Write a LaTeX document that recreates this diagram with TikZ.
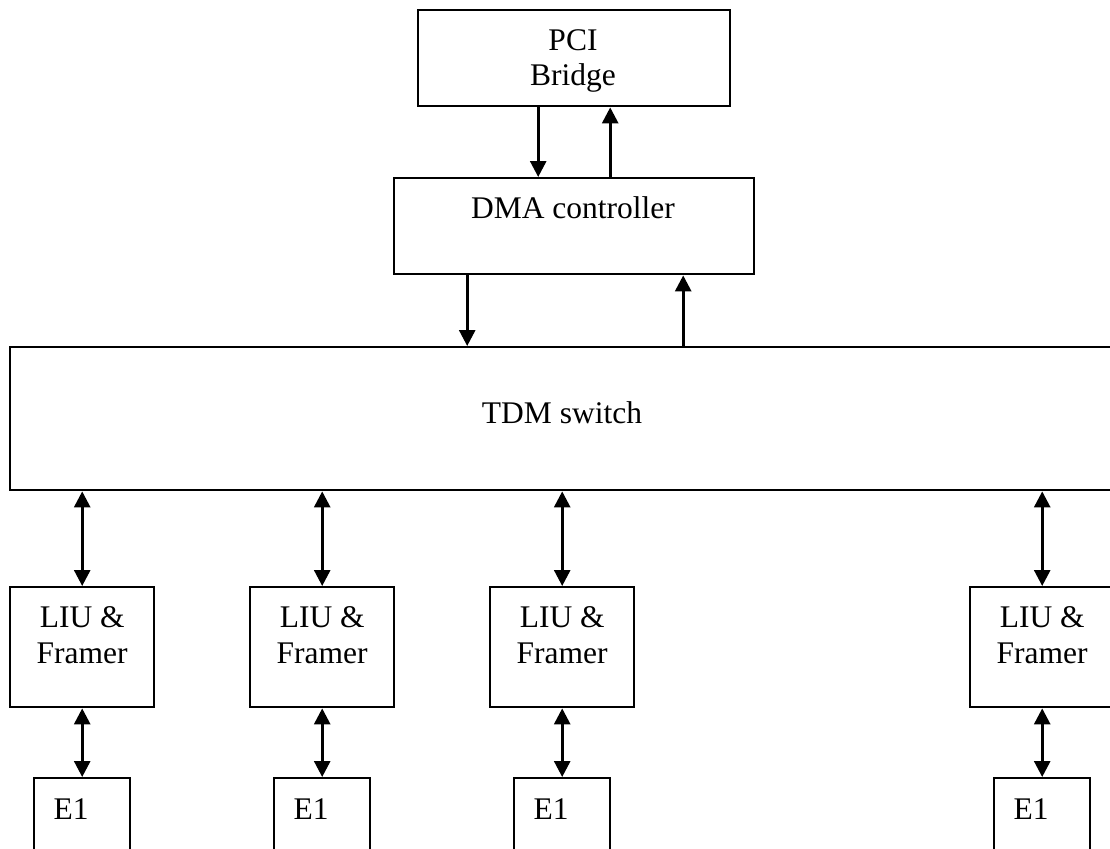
\documentclass[tikz,border=0pt]{standalone}
\usepackage{fontspec}
\setmainfont{Liberation Serif}
\usetikzlibrary{arrows.meta}
\begin{document}
\begin{tikzpicture}[x=1pt,y=-1pt,
  box/.style={draw, line width=2.4pt, inner sep=0pt, anchor=north west},
  lbl/.style={inner sep=0pt, anchor=base, font=\fontsize{31.5}{36}\selectfont},
  arr/.style={line width=2.8pt, -{Triangle[length=16pt,width=16pt]}},
  darr/.style={line width=2.8pt, {Triangle[length=16pt,width=16pt]}-{Triangle[length=16pt,width=16pt]}}
]
\useasboundingbox (0,0) rectangle (1110,848);
\clip (0,0) rectangle (1110,848);
% boxes
\node[box, minimum width=312pt, minimum height=96pt] (pci) at (417,9) {};
\node[box, minimum width=360pt, minimum height=96pt] (dma) at (393,177) {};
\node[box, minimum width=1120pt, minimum height=143pt] (tdm) at (9,346) {};
\foreach \i/\x in {1/9,2/249,3/489,4/969}{
  \node[box, minimum width=144pt, minimum height=120pt] (liu\i) at (\x,586) {};
  \node[lbl] (liut\i) at ([yshift=-41pt]liu\i.north) {LIU \&};
  \node[lbl] (liuf\i) at ([yshift=-77pt]liu\i.north) {Framer};
}
\foreach \i/\x in {1/33,2/273,3/513,4/993}{
  \node[box, minimum width=96pt, minimum height=140pt] (e\i) at (\x,777) {};
  \node[lbl] (et\i) at ([xshift=-11pt,yshift=-42pt]e\i.north) {E1};
}
% labels
\node[lbl] (pcit1) at (573,51) {PCI};
\node[lbl] (pcit2) at (573,86) {Bridge};
\node[lbl] (dmat) at (573,218) {DMA controller};
\node[lbl] (tdmt) at (562,423) {TDM switch};
% connectors
\draw[arr] ([xshift=-36pt]pci.south) -- ([xshift=-36pt]pci.south |- dma.north);
\draw[arr] ([xshift=36pt]dma.north) -- ([xshift=36pt]dma.north |- pci.south);
\draw[arr] ([xshift=-107pt]dma.south) -- ([xshift=-107pt]dma.south |- tdm.north);
\draw[arr] ([xshift=109pt]dma.south |- tdm.north) -- ([xshift=109pt]dma.south);
\foreach \i in {1,2,3,4}{
  \draw[darr] (liu\i.north |- tdm.south) -- (liu\i.north);
  \draw[darr] (liu\i.south) -- (e\i.north);
}
\end{tikzpicture}
\end{document}
